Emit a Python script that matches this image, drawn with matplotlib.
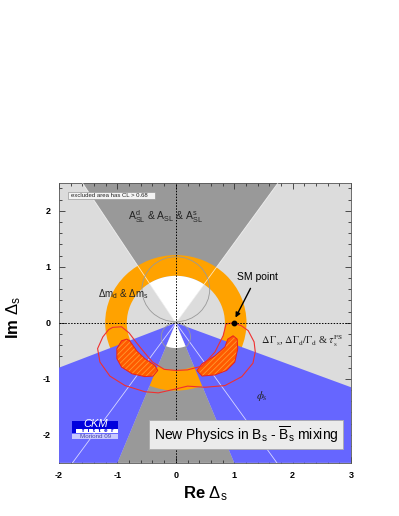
import numpy as np
import matplotlib
matplotlib.use("Agg")
import matplotlib.pyplot as plt
from matplotlib.patches import Polygon, Wedge, Circle, Rectangle

plt.rcParams['font.family'] = ['Liberation Sans', 'DejaVu Sans']
plt.rcParams['mathtext.fontset'] = 'custom'
plt.rcParams['mathtext.rm'] = 'Liberation Sans'
plt.rcParams['mathtext.it'] = 'Liberation Sans'
plt.rcParams['mathtext.bf'] = 'Liberation Sans:bold'
plt.rcParams['hatch.linewidth'] = 0.6

# plot range
x_lim = [-2, 3]
y_lim = [-2.5, 2.5]
x_ticks = [-2, -1, 0, 1, 2, 3]
y_ticks = [-2, -1, 0, 1, 2]

# A_SL cone: end points of the edges on the frame
asl_up = [(-1.6, 2.5), (1.75, 2.5)]
asl_down = [(-1.0, -2.5), (1.0, -2.5)]
# continuation of the upper cone edges below the origin
cone_lines_down = [(1.73, -2.5), (-1.77, -2.5)]
# phi_s wedge: upper boundaries
phis_left_end = (-2.0, -0.8)
phis_right_end = (3.0, -1.15)
# delta m ring
ring_in = 0.84
ring_out = 1.21
# allowed (white) holes
white_up_r = 0.84
white_down_r = 0.45
# grey circles (centre y, radius)
circ_up = (0.6, 0.58)
circ_down = (-0.25, 0.25)

# combined 68% CL contour (red line)
cont_x = [-1.08, -0.93, -0.8, -0.67, -0.53, -0.4, -0.2, 0.0, 0.2, 0.45, 0.67, 0.81, 0.86,
          0.97, 1.12, 1.24, 1.34, 1.36, 1.32, 1.13, 0.84, 0.5, 0.2, 0.0, -0.3, -0.53, -0.87,
          -1.13, -1.3, -1.34, -1.25, -1.15]
cont_y = [-0.08, -0.07, -0.18, -0.36, -0.54, -0.7, -0.83, -0.85, -0.84, -0.77, -0.52, -0.23, -0.02,
          0.0, -0.05, -0.14, -0.34, -0.52, -0.72, -0.96, -1.12, -1.15, -1.13, -1.18, -1.25, -1.23, -1.12,
          -0.95, -0.7, -0.46, -0.25, -0.12]

# hatched regions
blob_l_x = [-0.84, -0.93, -1.01, -1.01, -0.93, -0.75, -0.53, -0.39, -0.31, -0.36, -0.53, -0.67, -0.79]
blob_l_y = [-0.29, -0.32, -0.46, -0.64, -0.79, -0.91, -0.96, -0.95, -0.85, -0.76, -0.64, -0.5, -0.32]
blob_r_x = [0.98, 1.05, 1.06, 1.01, 0.87, 0.67, 0.45, 0.36, 0.45, 0.67, 0.84, 0.89]
blob_r_y = [-0.23, -0.29, -0.46, -0.7, -0.85, -0.93, -0.95, -0.85, -0.73, -0.59, -0.43, -0.29]

sm_point = (1.0, 0.0)

c_light = '#dcdcdc'
c_dark = '#999999'
c_blue = '#6666ff'
c_orange = '#ffa200'

fig = plt.figure(figsize=(3.99, 5.16), dpi=100)
ax = fig.add_axes([0.148, 0.103, 0.7318, 0.5426])
ax.set_facecolor(c_light)
ax.set_xlim(x_lim)
ax.set_ylim(y_lim)

# A_SL cones
ax.add_patch(Polygon([(0, 0)] + asl_up, closed=True, fc=c_dark, ec='none', zorder=1))
ax.add_patch(Polygon([(0, 0)] + asl_down, closed=True, fc=c_dark, ec='none', zorder=1))

# delta m ring
ax.add_patch(Wedge((0, 0), ring_out, 0, 360, width=ring_out - ring_in, fc=c_orange, ec='none', zorder=2))

# phi_s wedges
ax.add_patch(Polygon([(0, 0), phis_left_end, (x_lim[0], y_lim[0]), asl_down[0]],
                     closed=True, fc=c_blue, ec='none', zorder=3))
ax.add_patch(Polygon([(0, 0), asl_down[1], (x_lim[1], y_lim[0]), phis_right_end],
                     closed=True, fc=c_blue, ec='none', zorder=3))

# white holes
a1 = np.arctan2(asl_up[1][1], asl_up[1][0])
a2 = np.arctan2(asl_up[0][1], asl_up[0][0])
t = np.linspace(a1, a2, 60)
ax.add_patch(Polygon(np.vstack([[0, 0], np.c_[white_up_r * np.cos(t), white_up_r * np.sin(t)]]),
                     closed=True, fc='white', ec='none', zorder=4))
a1 = np.arctan2(asl_down[0][1], asl_down[0][0])
a2 = np.arctan2(asl_down[1][1], asl_down[1][0])
t = np.linspace(a1, a2, 40)
ax.add_patch(Polygon(np.vstack([[0, 0], np.c_[white_down_r * np.cos(t), white_down_r * np.sin(t)]]),
                     closed=True, fc='white', ec='none', zorder=4))

# cone edge lines
for p in asl_up + cone_lines_down:
    ax.plot([0, p[0]], [0, p[1]], color='white', lw=0.6, alpha=0.75, zorder=5)

# grey circles
ax.add_patch(Circle((0, circ_up[0]), circ_up[1], fc='none', ec='#999999', lw=0.6, zorder=5))
ax.add_patch(Circle((0, circ_down[0]), circ_down[1], fc='none', ec='#999999', lw=0.6, zorder=5))

# hatched regions
for bx, by in [(blob_l_x, blob_l_y), (blob_r_x, blob_r_y)]:
    pts = np.c_[bx, by]
    ax.add_patch(Polygon(pts, closed=True, fc='#ff5a00', ec='none', zorder=6))
    ax.add_patch(Polygon(pts, closed=True, fc='none', ec='#ff9a30', lw=0, hatch='//////', zorder=6))
    ax.add_patch(Polygon(pts, closed=True, fc='none', ec='#e82020', lw=0.7, zorder=7))

# combined contour
ax.add_patch(Polygon(np.c_[cont_x, cont_y], closed=True, fc='none', ec='#f03030', lw=0.8, zorder=7))

# axes through origin
ax.axhline(0, color='black', ls=(0, (1.5, 1.5)), lw=0.7, zorder=8)
ax.axvline(0, color='black', ls=(0, (1.5, 1.5)), lw=0.7, zorder=8)

# SM point
ax.plot(*sm_point, 'o', color='black', ms=3.2, zorder=9)
ax.annotate('', xy=(1.0, 0.05), xytext=(1.3, 0.66),
            arrowprops=dict(arrowstyle='-|>', color='black', lw=1.0, mutation_scale=7), zorder=9)
ax.text(1.05, 0.82, 'SM point', fontsize=7.5, va='center', zorder=10)

# region labels
ax.text(-0.17, 1.9, r'A$^{d}_{SL}$ & A$_{SL}$ & A$^{s}_{SL}$', fontsize=7.5, ha='center', va='center', color='#222222', zorder=10)
ax.text(-0.9, 0.52, r'$\Delta$m$_{d}$ & $\Delta$m$_{s}$', fontsize=7, ha='center', va='center', color='#222222', zorder=10)
ax.text(2.16, -0.32, r'$\Delta\,\Gamma_\mathrm{s}$, $\Delta\Gamma_\mathrm{d}/\Gamma_\mathrm{d}$ & $\tau_\mathrm{s}^\mathrm{FS}$', fontsize=7.5,
        ha='center', va='center', family='Liberation Serif', math_fontfamily='stix', color='#222222', zorder=10)
ax.text(1.48, -1.3, r'$\phi_\mathrm{s}$', fontsize=8, ha='center', va='center', math_fontfamily='stix', color='#222222', zorder=10)

# excluded area note
ax.add_patch(Rectangle((-1.85, 2.21), 1.49, 0.13, fc='#f4f4f4', ec='#999999', lw=0.5, zorder=10))
ax.text(-1.8, 2.275, 'excluded area has CL > 0.68', fontsize=4.3, va='center', color='#222222', zorder=11)

# title box
ax.add_patch(Rectangle((-0.46, -2.25), 3.32, 0.52, fc='#ebebeb', ec='#aaaaaa', lw=0.6, zorder=10))
ax.text(1.2, -1.99, r'New Physics in B$_s$ - $\overline{\mathrm{B}}_s$ mixing', fontsize=10,
        ha='center', va='center', zorder=11)

# CKMfitter logo
ax.add_patch(Rectangle((-1.77, -1.97), 0.78, 0.22, fc='#0000dd', ec='none', zorder=10))
ax.add_patch(Rectangle((-1.71, -1.96), 0.72, 0.065, fc='white', ec='none', zorder=11))
ax.add_patch(Rectangle((-1.77, -2.08), 0.78, 0.09, fc='#c8c8ff', ec='none', zorder=10))
ax.text(-1.38, -1.815, 'CKM', fontsize=8, style='italic', color='white', ha='center', va='center', zorder=12)
ax.text(-1.33, -1.928, 'f  i  t  t  e  r', fontsize=4.5, fontweight='bold', color='#0000dd', ha='center', va='center', zorder=12)
ax.text(-1.38, -2.035, 'Moriond 09', fontsize=4.5, color='#4848a8', ha='center', va='center', zorder=12)

# ticks
ax.set_xticks(x_ticks)
ax.set_xticklabels([str(v) for v in x_ticks], fontweight='bold', fontsize=6.5)
ax.set_yticks(y_ticks)
ax.set_yticklabels([str(v) for v in y_ticks], fontweight='bold', fontsize=6.5)
ax.xaxis.set_minor_locator(matplotlib.ticker.MultipleLocator(0.2))
ax.yaxis.set_minor_locator(matplotlib.ticker.MultipleLocator(0.2))
ax.tick_params(which='both', direction='in', top=True, right=True, width=0.6, color='#333333')
ax.tick_params(which='major', length=4, pad=6)
ax.tick_params(which='minor', length=2.2)
for s in ax.spines.values():
    s.set_linewidth(0.6)
    s.set_color('#555555')

ax.set_xlabel(r'Re $\Delta_{s}$', fontsize=12, fontweight='bold')
ax.set_ylabel(r'Im $\Delta_{s}$', fontsize=12, fontweight='bold')
ax.xaxis.set_label_coords(0.5, -0.075)
ax.yaxis.set_label_coords(-0.125, 0.52)

plt.savefig('out.png', dpi=100)
